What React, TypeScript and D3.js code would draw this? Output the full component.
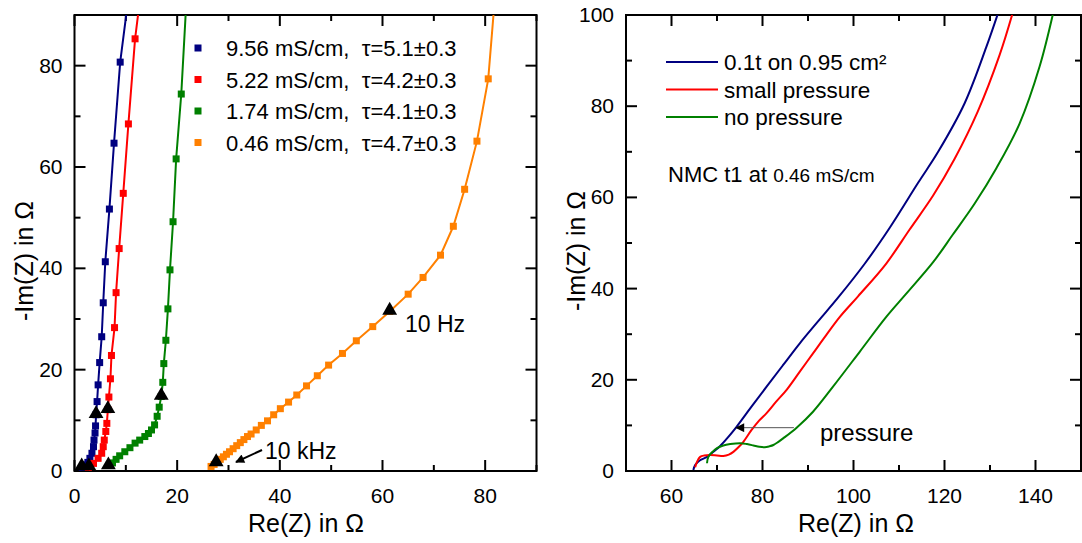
import React from "react";
import * as d3 from "d3";

type P = [number, number];

// ---------- Left panel data ----------
const leftLegend = [
  "9.56 mS/cm,  \u03c4=5.1\u00b10.3",
  "5.22 mS/cm,  \u03c4=4.2\u00b10.3",
  "1.74 mS/cm,  \u03c4=4.1\u00b10.3",
  "0.46 mS/cm,  \u03c4=4.7\u00b10.3",
];
const leftColors = ["#000080", "#ff0000", "#008000", "#ff8000"];

const blueData: P[] = [
  [1.5, 0.7], [2.1, 1.2], [2.6, 1.7], [3.0, 2.5], [3.4, 3.5], [3.7, 4.8], [3.8, 6.1], [4.0, 7.5],
  [4.1, 8.9], [4.2, 11.1], [4.4, 13.7], [4.6, 17.0], [4.9, 21.4], [5.3, 26.5], [5.6, 33.2],
  [6.0, 41.3], [6.8, 51.7], [7.7, 64.7], [8.9, 80.7],
];
const redData: P[] = [
  [2.7, 0.6], [3.7, 1.5], [4.6, 2.5], [5.3, 3.5], [5.6, 4.8], [5.8, 6.1], [6.1, 7.8], [6.3, 9.4],
  [6.5, 12.1], [6.7, 14.6], [7.0, 18.2], [7.2, 22.8], [7.8, 28.3], [8.1, 35.2], [8.7, 43.9],
  [9.5, 54.8], [10.5, 68.5], [11.8, 85.3],
];
const greenData: P[] = [
  [6.9, 1.2], [7.4, 1.6], [8.1, 2.3], [8.8, 3.0], [9.8, 3.8], [10.8, 4.6], [11.8, 5.5], [12.7, 6.1],
  [13.7, 6.8], [14.4, 7.4], [15.0, 8.1], [15.6, 9.1], [16.1, 10.8], [16.5, 12.6], [16.9, 14.7],
  [17.2, 17.5], [17.4, 21.2], [17.8, 25.8], [18.2, 32.0], [18.6, 39.7], [19.2, 49.2], [19.8, 61.6],
  [20.8, 74.4],
];
const orangeData: P[] = [
  [26.6, 0.9], [27.2, 1.3], [27.8, 1.8], [28.4, 2.3], [29.0, 2.8], [29.6, 3.3], [30.2, 3.8],
  [30.9, 4.4], [31.6, 5.0], [32.3, 5.6], [33.0, 6.2], [33.7, 6.8], [34.4, 7.3], [35.4, 8.1],
  [36.4, 9.0], [37.6, 9.9], [38.8, 11.1], [40.1, 12.3], [41.7, 13.6], [43.3, 15.0], [45.2, 16.8],
  [47.3, 18.8], [49.5, 20.9], [52.2, 23.2], [54.9, 25.7], [58.1, 28.5], [61.4, 31.5], [65.0, 34.9],
  [67.9, 38.2], [71.3, 42.6], [73.8, 48.3], [76.0, 55.6], [78.4, 65.1], [80.6, 77.4],
];
// fitted line continues beyond the last point to the top of the frame
const fitTops: P[] = [[10.2, 91], [12.5, 91], [21.7, 91], [81.7, 91]];
const leftSeries = [blueData, redData, greenData, orangeData];

// frequency markers (triangles): 10 kHz and 10 Hz
const freqMarkers: P[] = [
  [1.4, 0.8], [4.2, 11.1], [2.8, 0.8], [6.5, 12.1], [6.6, 1.0], [16.9, 14.7], [27.6, 1.6], [61.4, 31.5],
];

const leftXTicks = [0, 20, 40, 60, 80];
const leftYTicks = [0, 20, 40, 60, 80];

// ---------- Right panel data ----------
const rightLegend = ["0.1t on 0.95 cm\u00b2", "small pressure", "no pressure"];
const rightColors = ["#000080", "#ff0000", "#008000"];

const blueRight: P[] = [
  [64.8, 0.2], [65.2, 1.3], [66.2, 2.3], [67.8, 3.1], [69.2, 4.2], [70.7, 5.5], [72.5, 7.5],
  [74.3, 9.7], [77.5, 14.0], [80.9, 18.5], [84.5, 23.2], [88.2, 28.0], [92.2, 32.8], [96.6, 38.0],
  [102.5, 45.5], [108.0, 53.4], [114.2, 63.2], [118.6, 70.0], [124.4, 80.6], [129.2, 93.0],
  [131.8, 100.5],
];
const redRight: P[] = [
  [65.2, 0.8], [65.6, 2.0], [66.3, 3.1], [67.2, 3.4], [68.5, 3.5], [70.0, 3.4], [71.4, 3.3],
  [72.6, 3.6], [73.6, 4.2], [74.7, 5.2], [75.8, 6.4], [77.6, 9.0], [79.2, 11.0], [80.9, 12.7],
  [83.0, 15.2], [85.3, 17.8], [88.2, 21.8], [91.1, 25.8], [94.0, 29.8], [97.0, 33.8],
  [101.0, 38.3], [107.2, 45.5], [112.3, 52.9], [117.5, 60.4], [122.2, 68.4], [127.3, 78.8],
  [132.1, 91.2], [135.0, 100.5],
];
const greenRight: P[] = [
  [67.8, 1.7], [68.1, 3.1], [69.0, 4.2], [70.0, 5.0], [71.4, 5.6], [72.9, 5.9], [75.1, 6.1],
  [76.6, 5.9], [78.0, 5.6], [79.3, 5.3], [80.5, 5.2], [81.5, 5.4], [82.4, 5.7], [83.5, 6.4],
  [84.6, 7.2], [87.5, 9.5], [91.1, 13.0], [95.5, 18.5], [101.4, 26.2], [107.2, 33.8],
  [111.6, 38.9], [117.5, 45.8], [121.8, 51.8], [126.6, 58.6], [131.4, 66.4], [136.5, 76.2],
  [140.9, 88.7], [143.9, 100.5],
];
const rightSeries = [blueRight, redRight, greenRight];

const rightXTicks = [60, 80, 100, 120, 140];
const rightYTicks = [0, 20, 40, 60, 80, 100];

// pressure arrow (data coords): from green curve to blue curve
const pressureArrow: P[] = [[86.9, 9.5], [74.2, 9.5]];

const FONT = "Arial, 'Liberation Sans', Helvetica, sans-serif";

function Frame({ x, y, xMinor, yMinor, xTicks, yTicks, clipId }: any) {
  const [x0, x1] = x.range();
  const [y0, y1] = y.range(); // y0 bottom, y1 top
  const major = 11;
  const minor = 6;
  const els: any[] = [];
  xMinor.forEach((v: number, i: number) => {
    const isMajor = xTicks.includes(v);
    const L = isMajor ? major : minor;
    const px = x(v);
    els.push(<line key={"xb" + i} x1={px} x2={px} y1={y0} y2={y0 - L} stroke="#000" strokeWidth={2} />);
    els.push(<line key={"xt" + i} x1={px} x2={px} y1={y1} y2={y1 + L} stroke="#000" strokeWidth={2} />);
  });
  yMinor.forEach((v: number, i: number) => {
    const isMajor = yTicks.includes(v);
    const L = isMajor ? major : minor;
    const py = y(v);
    els.push(<line key={"yl" + i} x1={x0} x2={x0 + L} y1={py} y2={py} stroke="#000" strokeWidth={2} />);
    els.push(<line key={"yr" + i} x1={x1} x2={x1 - L} y1={py} y2={py} stroke="#000" strokeWidth={2} />);
  });
  return (
    <g>
      <defs>
        <clipPath id={clipId}>
          <rect x={x0} y={y1} width={x1 - x0} height={y0 - y1} />
        </clipPath>
      </defs>
      {els}
      <rect x={x0} y={y1} width={x1 - x0} height={y0 - y1} fill="none" stroke="#000" strokeWidth={2} />
      {xTicks.map((v: number) => (
        <text key={"xl" + v} x={x(v)} y={y0 + 32} textAnchor="middle" fontSize={21} fontFamily={FONT}>
          {v}
        </text>
      ))}
      {yTicks.map((v: number) => (
        <text key={"yl" + v} x={x0 - 12} y={y(v) + 7} textAnchor="end" fontSize={21} fontFamily={FONT}>
          {v}
        </text>
      ))}
    </g>
  );
}

export default function App() {
  const W = 1082;
  const H = 543;
  const lx = d3.scaleLinear().domain([0, 90]).range([74.5, 536.5]);
  const ly = d3.scaleLinear().domain([0, 90]).range([471, 15]);
  const rx = d3.scaleLinear().domain([50, 150]).range([626, 1081]);
  const ry = d3.scaleLinear().domain([0, 100]).range([471, 15]);

  const lineL = d3.line<P>().x((d) => lx(d[0])).y((d) => ly(d[1]));
  const lineR = d3.line<P>().x((d) => rx(d[0])).y((d) => ry(d[1])).curve(d3.curveCatmullRom.alpha(0.5));

  const tri = d3.symbol().type(d3.symbolTriangle).size(95)();
  const sq = 7;

  const legendY = (i: number) => 48 + i * 31.5;

  return (
    <svg width={W} height={H} style={{ position: "absolute", left: 0, top: 0, background: "#fff" }}>
      <defs>
        <marker id="ahK" viewBox="0 0 10 10" refX="9" refY="5" markerWidth="12" markerHeight="9" markerUnits="userSpaceOnUse" orient="auto">
          <path d="M0,0 L10,5 L0,10 z" fill="#000" />
        </marker>
        <marker id="ahP" viewBox="0 0 10 10" refX="9" refY="5" markerWidth="15" markerHeight="9" markerUnits="userSpaceOnUse" orient="auto">
          <path d="M0,0 L10,5 L0,10 z" fill="#000" />
        </marker>
      </defs>

      {/* ---------------- Left panel ---------------- */}
      <Frame
        x={lx}
        y={ly}
        xTicks={leftXTicks}
        yTicks={leftYTicks}
        xMinor={d3.range(0, 91, 10)}
        yMinor={d3.range(0, 91, 10)}
        clipId="clipL"
      />
      <g clipPath="url(#clipL)">
        {leftSeries.map((s, i) => (
          <g key={"ls" + i}>
            <path d={lineL([...s, fitTops[i]]) || ""} fill="none" stroke={leftColors[i]} strokeWidth={2} />
            {s.map((d, j) => (
              <rect key={j} x={lx(d[0]) - sq / 2} y={ly(d[1]) - sq / 2} width={sq} height={sq} fill={leftColors[i]} />
            ))}
          </g>
        ))}
        {freqMarkers.map((d, i) => (
          <path key={"tr" + i} d={tri || ""} transform={`translate(${lx(d[0])},${ly(d[1]) - 1})`} fill="#000" />
        ))}
      </g>
      {leftLegend.map((t, i) => (
        <g key={"lg" + i}>
          <rect x={198 - sq / 2} y={legendY(i) - sq / 2} width={sq} height={sq} fill={leftColors[i]} />
          <text x={226} y={legendY(i) + 8} fontSize={22} fontFamily={FONT} style={{ whiteSpace: "pre" }}>
            {t}
          </text>
        </g>
      ))}
      <text x={405} y={332} fontSize={23} fontFamily={FONT}>10 Hz</text>
      <text x={265} y={459} fontSize={23} fontFamily={FONT}>10 kHz</text>
      <line x1={262} y1={450} x2={236} y2={462} stroke="#000" strokeWidth={2} markerEnd="url(#ahK)" />
      <text x={306} y={532} textAnchor="middle" fontSize={25} fontFamily={FONT}>Re(Z) in {"\u03a9"}</text>
      <text transform="translate(33,261) rotate(-90)" textAnchor="middle" fontSize={25} fontFamily={FONT}>
        -Im(Z) in {"\u03a9"}
      </text>

      {/* ---------------- Right panel ---------------- */}
      <Frame
        x={rx}
        y={ry}
        xTicks={rightXTicks}
        yTicks={rightYTicks}
        xMinor={d3.range(50, 151, 10)}
        yMinor={d3.range(0, 101, 10)}
        clipId="clipR"
      />
      <g clipPath="url(#clipR)">
        {rightSeries.map((s, i) => (
          <path key={"rs" + i} d={lineR(s) || ""} fill="none" stroke={rightColors[i]} strokeWidth={2} />
        ))}
      </g>
      <line
        x1={rx(pressureArrow[0][0])}
        y1={ry(pressureArrow[0][1])}
        x2={rx(pressureArrow[1][0])}
        y2={ry(pressureArrow[1][1])}
        stroke="#555"
        strokeWidth={1}
        markerEnd="url(#ahP)"
      />
      <text x={820} y={441} fontSize={24} fontFamily={FONT}>pressure</text>
      {rightLegend.map((t, i) => (
        <g key={"rg" + i}>
          <line x1={666} x2={718} y1={62 + i * 27.5} y2={62 + i * 27.5} stroke={rightColors[i]} strokeWidth={2} />
          <text x={724} y={62 + i * 27.5 + 8} fontSize={22.5} fontFamily={FONT}>{t}</text>
        </g>
      ))}
      <text x={668} y={182} fontSize={22} fontFamily={FONT}>
        NMC t1 at <tspan fontSize={19}>0.46 mS/cm</tspan>
      </text>
      <text x={856} y={532} textAnchor="middle" fontSize={25} fontFamily={FONT}>Re(Z) in {"\u03a9"}</text>
      <text transform="translate(585,251) rotate(-90)" textAnchor="middle" fontSize={25} fontFamily={FONT}>
        -Im(Z) in {"\u03a9"}
      </text>
    </svg>
  );
}
